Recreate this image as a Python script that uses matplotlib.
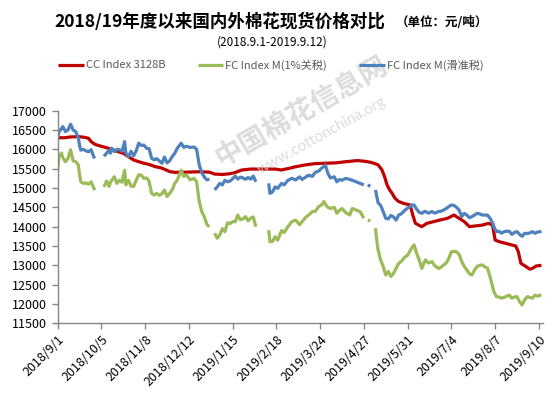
import numpy as np
import pandas as pd
import matplotlib
matplotlib.use("Agg")
import matplotlib.pyplot as plt

RED   = "#C00000"
GREEN = "#9BBB59"
BLUE  = "#4F81BD"
AXIS  = "#868686"

plt.rcParams["font.family"] = ["Noto Sans CJK SC", "DejaVu Sans"]

start = pd.Timestamp("2018-09-01")
nan = np.nan

# days since 2018-09-01, CC Index 3128B
cc_days = [0, 5, 10, 16, 21, 24, 26, 29, 32, 35, 39, 43, 47, 51, 55, 59, 63, 67, 71, 76,
           80, 84, 87, 91, 100, 110, 118, 122, 128, 134, 138, 143, 150, 160, 169, 174, 180,
           185, 192, 200, 208, 216, 224, 233, 239, 244, 249, 252, 254, 256, 258, 260, 262,
           265, 269, 274, 276, 278, 280, 283, 287, 292, 297, 303, 308, 312, 316, 320, 325,
           330, 335, 338, 340, 343, 348, 353, 356, 358, 360, 364, 367, 369, 372, 376]
cc_vals = [16300, 16300, 16320, 16330, 16310, 16285, 16200, 16130, 16096, 16070, 16030,
           15985, 15940, 15900, 15810, 15725, 15680, 15640, 15610, 15550, 15525, 15470,
           15425, 15405, 15410, 15420, 15410, 15360, 15350, 15370, 15400, 15465, 15490,
           15490, 15490, 15466, 15510, 15550, 15595, 15630, 15640, 15650, 15680, 15710,
           15690, 15660, 15600, 15470, 15300, 15080, 14950, 14860, 14740, 14650, 14600,
           14560, 14300, 14090, 14050, 14000, 14086, 14128, 14170, 14216, 14300, 14216,
           14130, 14000, 14020, 14040, 14086, 14040, 13655, 13612, 13570, 13526, 13500,
           13355, 13052, 12966, 12900, 12920, 12983, 13000]

# days since 2018-09-01, FC Index M (NaN = no quote / holiday)
fc_days = [0, 1, 3, 4, 6, 8, 10, 12, 14, 16, 17, 18, 20, 22, 24, 26, 28, 29,
           32,
           36, 38, 40, 41, 42, 44, 46, 48, 50, 52, 53, 55, 57, 59, 61, 63, 65, 67, 69, 71,
           73, 75, 77, 79, 81, 83, 85, 87, 89, 91, 93, 96, 98, 100, 103, 106, 108, 110,
           112, 114, 116, 118,
           120,
           122, 124, 126, 128, 130, 132, 134, 136, 138, 140, 142, 144, 146, 148, 150, 152,
           154,
           158,
           164, 165, 167, 169, 171, 174, 176, 179, 182, 185, 188, 190, 193, 195, 198, 200,
           203, 205, 207, 208, 210, 212, 215, 217, 219, 221, 224, 227, 229, 232, 235, 238,
           240,
           241, 243,
           245,
           247, 248, 249, 251, 253, 255, 257, 259, 261, 263, 265, 267, 270, 272, 274, 275,
           277, 279, 281, 283, 285, 286, 288, 291, 293, 296, 298, 300, 302, 304, 306, 308,
           310, 312, 314, 316, 318, 320, 322, 324, 326, 328, 330, 332, 334, 336, 338, 339,
           341, 343, 345, 347, 349, 351, 353, 355, 357, 359, 361, 363, 365, 367, 369, 371,
           373, 375, 376]

fc_1pct = [15450, 15810, 15900, 15780, 15680, 15760, 15990, 15700, 15680, 15600, 15350,
           15160, 15120, 15130, 15100, 15160, 15000, 14950,
           nan,
           15030, 15180, 15040, 15150, 15200, 15290, 15120, 15200, 15150, 15460, 15080,
           15200, 15050, 15040, 15200, 15340, 15330, 15250, 15260, 15180, 14860, 14820,
           14860, 14810, 14850, 14950, 14780, 14860, 14950, 15120, 15210, 15460, 15300,
           15340, 15210, 15250, 15160, 14650, 14390, 14250, 14050, 14000,
           nan,
           13830, 13700, 13790, 13950, 13870, 14100, 14080, 14130, 14130, 14300, 14180,
           14200, 14260, 14150, 14220, 14250, 14000,
           nan,
           13910, 13610, 13620, 13740, 13650, 13900, 13850, 14000, 14130, 14170, 14050,
           14130, 14250, 14300, 14390, 14390, 14520, 14560, 14650, 14580, 14500, 14470,
           14500, 14345, 14420, 14470, 14360, 14300, 14470, 14430, 14390, 14220,
           nan,
           14170, 14150,
           nan,
           13960, 13650, 13400, 13140, 12970, 12750, 12840, 12710, 12790, 12920, 13050,
           13100, 13220, 13260, 13380, 13440, 13530, 13310, 13140, 12920, 13080, 13140,
           13060, 13095, 12990, 12920, 12950, 13010, 13060, 13180, 13350, 13360, 13350,
           13280, 13100, 12970, 12880, 12780, 12750, 12880, 12970, 13000, 13010, 12960,
           12930, 12710, 12450, 12320, 12190, 12180, 12150, 12170, 12200, 12230, 12150,
           12180, 12190, 12060, 11975, 12110, 12190, 12170, 12150, 12230, 12200, 12230,
           12230]

fc_slide = [16300, 16450, 16540, 16590, 16460, 16500, 16650, 16500, 16460, 16300, 16100,
            15980, 16000, 15960, 15940, 15990, 15810, 15770,
            nan,
            15820, 15900, 15980, 15900, 16030, 15940, 16000, 15990, 15950, 16200, 15900,
            15810, 15950, 15830, 15960, 16160, 16100, 16110, 16030, 16020, 15770, 15730,
            15760, 15700, 15640, 15800, 15650, 15700, 15810, 15900, 16030, 16160, 16050,
            16080, 16050, 16060, 16000, 15600, 15400, 15280, 15210, 15230,
            nan,
            14950, 15030, 15120, 15080, 15200, 15160, 15180, 15240, 15310, 15230, 15280,
            15260, 15225, 15270, 15230, 15310, 15160,
            nan,
            15120, 14860, 14900, 15030, 14990, 15120, 15080, 15200, 15250, 15210, 15290,
            15220, 15290, 15330, 15300, 15400, 15440, 15510, 15560, 15600, 15380, 15260,
            15290, 15160, 15220, 15200, 15250, 15220, 15200, 15160, 15120, 15080,
            nan,
            15080, 15040,
            nan,
            14950, 14780, 14620, 14550, 14390, 14216, 14200, 14290, 14250, 14170, 14300,
            14330, 14430, 14480, 14520, 14560, 14560, 14450, 14370, 14345, 14390, 14390,
            14350, 14390, 14350, 14390, 14400, 14430, 14470, 14520, 14560, 14550, 14500,
            14430, 14260, 14345, 14300, 14230, 14260, 14300, 14345, 14330, 14300, 14300,
            14300, 14220, 14100, 14000, 13870, 13880, 13830, 13870, 13880, 13880, 13800,
            13850, 13870, 13800, 13750, 13830, 13820, 13840, 13870, 13830, 13860, 13870,
            13880]

series_names = ["CC Index 3128B", "FC Index M(1%关税)", "FC Index M(滑准税)"]
tick_days = [0, 34, 68, 102, 136, 170, 204, 238, 272, 306, 340, 374]

cc_dates = start + pd.to_timedelta(cc_days, unit="D")
fc_dates = start + pd.to_timedelta(fc_days, unit="D")
tick_dates = start + pd.to_timedelta(tick_days, unit="D")

fig = plt.figure(figsize=(5.52, 3.98), dpi=100, facecolor="white")
ax = fig.add_axes([0.1045, 0.1877, 0.8787, 0.5342])

# watermark
fig.text(0.547, 0.72, "中国棉花信息网", fontsize=20, fontweight="bold", color="#d4d4d4",
         rotation=30, ha="center", va="center", alpha=0.8, zorder=0)
fig.text(0.583, 0.66, "www.cottonchina.org", fontsize=11, color="#d4d4d4",
         rotation=29, ha="center", va="center", alpha=0.8, zorder=0,
         family=["Lato", "DejaVu Sans"])

lw = 2.3
ax.plot(cc_dates, cc_vals, color=RED, lw=lw, label=series_names[0], solid_capstyle="butt")
ax.plot(fc_dates, fc_1pct, color=GREEN, lw=lw, label=series_names[1], solid_capstyle="butt")
ax.plot(fc_dates, fc_slide, color=BLUE, lw=lw, label=series_names[2], solid_capstyle="butt")

ax.set_xlim(start, start + pd.Timedelta(days=377))
ax.set_ylim(11500, 17000)
ax.set_yticks(np.arange(11500, 17001, 500))
ax.set_xticks(tick_dates)
ax.set_xticklabels([f"{d.year}/{d.month}/{d.day}" for d in tick_dates],
                   rotation=45, ha="right", va="top", rotation_mode="anchor")
ax.set_facecolor("none")

for s in ["top", "right"]:
    ax.spines[s].set_visible(False)
for s in ["left", "bottom"]:
    ax.spines[s].set_color(AXIS)
    ax.spines[s].set_linewidth(1.0)
ax.tick_params(axis="both", colors=AXIS, length=4, width=1.0, labelcolor="black",
               labelsize=9)
ax.tick_params(axis="x", pad=3)

fig.text(0.399, 0.945, "2018/19年度以来国内外棉花现货价格对比", fontsize=12.6,
         fontweight="bold", ha="center", va="center")
fig.text(0.80, 0.943, "（单位：元/吨）", fontsize=9, fontweight="bold",
         ha="center", va="center")
fig.text(0.493, 0.895, "(2018.9.1-2019.9.12)", fontsize=8.5, ha="center", va="center")

fig.legend(loc="center", bbox_to_anchor=(0.491, 0.837), ncol=3, frameon=False,
           fontsize=8, handlelength=2.3, handletextpad=0.2, columnspacing=2.9,
           labelcolor="#595959")

fig.savefig("out.png", dpi=100, facecolor="white")
